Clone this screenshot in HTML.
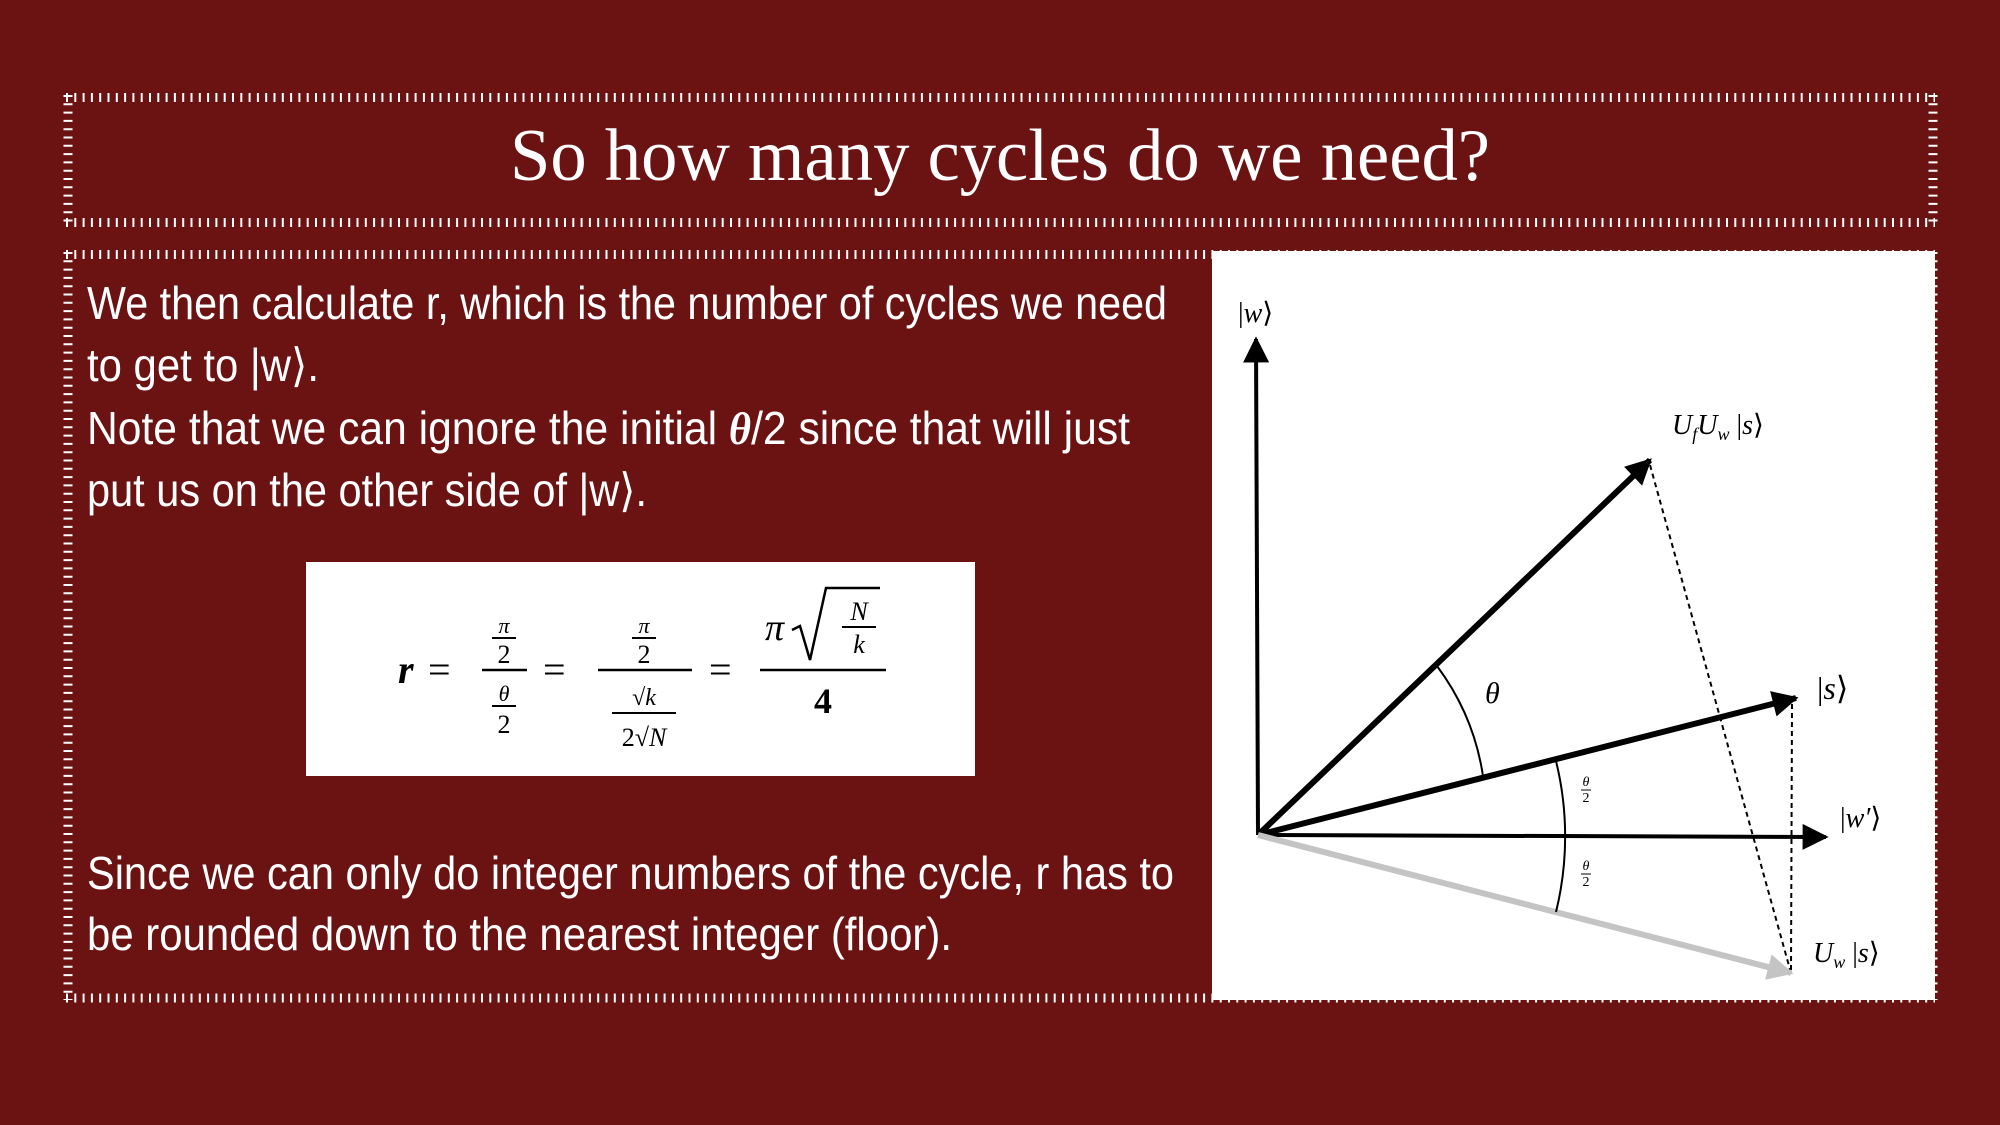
<!DOCTYPE html>
<html><head><meta charset="utf-8"><style>
html,body{margin:0;padding:0;background:#6b1213;}
svg{display:block}
</style></head><body>
<svg width="2000" height="1125" viewBox="0 0 2000 1125" font-family="Liberation Sans, sans-serif">
<rect width="2000" height="1125" fill="#6b1213"/>
<defs>
<marker id="ah" markerWidth="32" markerHeight="26" refX="9" refY="5" orient="auto" markerUnits="userSpaceOnUse" viewBox="0 0 10 10"><path d="M0,0 L10,5 L0,10 z" fill="#000"/></marker>
<marker id="ahg" markerWidth="32" markerHeight="26" refX="9" refY="5" orient="auto" markerUnits="userSpaceOnUse" viewBox="0 0 10 10"><path d="M0,0 L10,5 L0,10 z" fill="#c4c4c4"/></marker>
</defs>
<g stroke="#fff" stroke-width="9" stroke-dasharray="2 6.3" fill="none">
<line x1="66" y1="97.5" x2="1935" y2="97.5"/><line x1="66" y1="222.5" x2="1935" y2="222.5"/>
<line x1="68" y1="95" x2="68" y2="225"/><line x1="1933" y1="95" x2="1933" y2="225"/>
</g>
<text x="1000" y="180" text-anchor="middle" font-family="Liberation Serif, serif" font-size="74" fill="#fff" textLength="980" lengthAdjust="spacingAndGlyphs">So how many cycles do we need?</text>
<g stroke="#fff" stroke-width="9" stroke-dasharray="2 6.3" fill="none">
<line x1="66" y1="254.5" x2="1935" y2="254.5"/><line x1="66" y1="998" x2="1935" y2="998"/>
<line x1="68" y1="252" x2="68" y2="1000"/><line x1="1933" y1="252" x2="1933" y2="1000"/>
</g>
<g fill="#fff" font-size="46">
<text x="87" y="319" textLength="1080" lengthAdjust="spacingAndGlyphs">We then calculate r, which is the number of cycles we need</text>
<text x="87" y="381" textLength="232" lengthAdjust="spacingAndGlyphs">to get to |w⟩.</text>
<text x="87" y="444" textLength="1043" lengthAdjust="spacingAndGlyphs">Note that we can ignore the initial <tspan font-weight="bold" font-style="italic" font-family="Liberation Serif, serif">θ</tspan>/2 since that will just</text>
<text x="87" y="506" textLength="560" lengthAdjust="spacingAndGlyphs">put us on the other side of |w⟩.</text>
<text x="87" y="889" textLength="1087" lengthAdjust="spacingAndGlyphs">Since we can only do integer numbers of the cycle, r has to</text>
<text x="87" y="950" textLength="865" lengthAdjust="spacingAndGlyphs">be rounded down to the nearest integer (floor).</text>
</g>
<g font-family="Liberation Serif, serif" fill="#000">
<rect x="306" y="562" width="669" height="214" fill="#fff"/>
<text x="398" y="683" font-size="40" font-style="italic" font-weight="bold">r</text>
<text x="428" y="683" font-size="40">=</text>
<text x="504" y="633" font-size="22" font-style="italic" text-anchor="middle">π</text>
<line x1="492" y1="638" x2="516" y2="638" stroke="#000" stroke-width="2"/>
<text x="504" y="663" font-size="26" text-anchor="middle">2</text>
<line x1="482" y1="670" x2="527" y2="670" stroke="#000" stroke-width="2.5"/>
<text x="504" y="701" font-size="22" font-style="italic" text-anchor="middle">θ</text>
<line x1="492" y1="706" x2="516" y2="706" stroke="#000" stroke-width="2"/>
<text x="504" y="733" font-size="26" text-anchor="middle">2</text>
<text x="543" y="683" font-size="40">=</text>
<text x="644" y="633" font-size="22" font-style="italic" text-anchor="middle">π</text>
<line x1="632" y1="638" x2="656" y2="638" stroke="#000" stroke-width="2"/>
<text x="644" y="663" font-size="26" text-anchor="middle">2</text>
<line x1="598" y1="670" x2="692" y2="670" stroke="#000" stroke-width="2.5"/>
<text x="644" y="705" font-size="24" text-anchor="middle">√<tspan font-style="italic">k</tspan></text>
<line x1="612" y1="713" x2="676" y2="713" stroke="#000" stroke-width="2"/>
<text x="644" y="746" font-size="26" text-anchor="middle">2√<tspan font-style="italic">N</tspan></text>
<text x="709" y="683" font-size="40">=</text>
<text x="765" y="640" font-size="38" font-style="italic">π</text>
<path d="M792,630 L800,626 L810,660 L826,588 L880,588" stroke="#000" stroke-width="2.5" fill="none"/>
<text x="859" y="620" font-size="26" font-style="italic" text-anchor="middle">N</text>
<line x1="842" y1="627" x2="876" y2="627" stroke="#000" stroke-width="2"/>
<text x="859" y="653" font-size="26" font-style="italic" text-anchor="middle">k</text>
<line x1="760" y1="670" x2="886" y2="670" stroke="#000" stroke-width="2.5"/>
<text x="823" y="713" font-size="36" font-weight="bold" text-anchor="middle">4</text>
</g>
<g font-family="Liberation Serif, serif" font-style="italic">
<rect x="1212" y="251" width="723" height="749" fill="#fff"/>
<line x1="1650" y1="465" x2="1791" y2="973" stroke="#000" stroke-width="2" stroke-dasharray="5 4"/>
<line x1="1792" y1="704" x2="1791" y2="973" stroke="#000" stroke-width="2" stroke-dasharray="5 4"/>
<line x1="1258" y1="835" x2="1256" y2="339" stroke="#000" stroke-width="4" marker-end="url(#ah)"/>
<line x1="1258" y1="835" x2="1826" y2="837" stroke="#000" stroke-width="4" marker-end="url(#ah)"/>
<line x1="1258" y1="835" x2="1650" y2="460" stroke="#000" stroke-width="6" marker-end="url(#ah)"/>
<line x1="1258" y1="835" x2="1796" y2="698" stroke="#000" stroke-width="6" marker-end="url(#ah)"/>
<line x1="1258" y1="835" x2="1791" y2="973" stroke="#c4c4c4" stroke-width="6" marker-end="url(#ahg)"/>
<path d="M1437,666 A245,245 0 0 1 1483,776" stroke="#000" stroke-width="2" fill="none"/>
<path d="M1556,761 A316,316 0 0 1 1556,912" stroke="#000" stroke-width="2" fill="none"/>
<text x="1485" y="703" font-size="30">θ</text>
<g font-size="14" text-anchor="middle">
<text x="1586" y="786">θ</text><line x1="1581" y1="790" x2="1591" y2="790" stroke="#000" stroke-width="1"/><text x="1586" y="802" font-style="normal">2</text>
<text x="1586" y="870">θ</text><line x1="1581" y1="874" x2="1591" y2="874" stroke="#000" stroke-width="1"/><text x="1586" y="886" font-style="normal">2</text>
</g>
<g font-size="28" fill="#000">
<text x="1238" y="322"><tspan font-style="normal">|</tspan>w<tspan font-style="normal">⟩</tspan></text>
<text x="1672" y="434">U<tspan font-size="18" dy="6">f</tspan><tspan dy="-6">U</tspan><tspan font-size="18" dy="6">w</tspan><tspan dy="-6" font-style="normal"> |</tspan>s<tspan font-style="normal">⟩</tspan></text>
<text x="1817" y="699" font-size="32"><tspan font-style="normal">|</tspan>s<tspan font-style="normal">⟩</tspan></text>
<text x="1840" y="827"><tspan font-style="normal">|</tspan>w′<tspan font-style="normal">⟩</tspan></text>
<text x="1813" y="962">U<tspan font-size="18" dy="6">w</tspan><tspan dy="-6" font-style="normal"> |</tspan>s<tspan font-style="normal">⟩</tspan></text>
</g>
</g>
</svg>
</body></html>
